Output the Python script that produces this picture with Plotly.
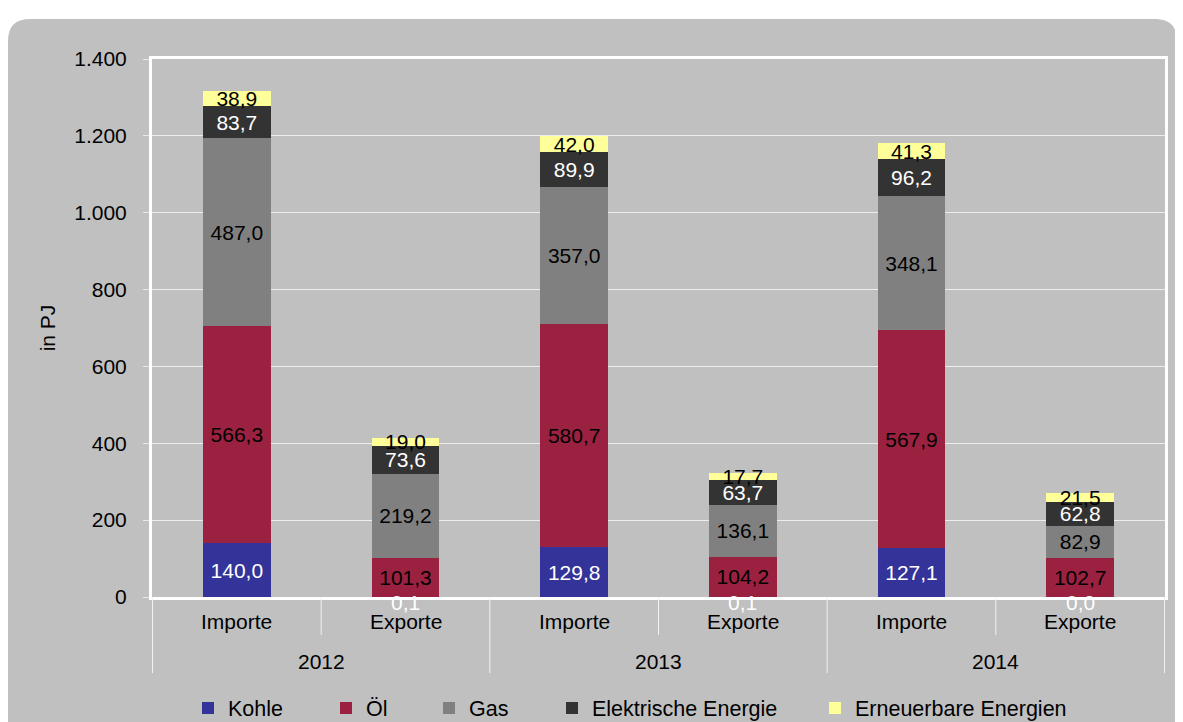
import plotly.graph_objects as go

years = ["2012", "2012", "2013", "2013", "2014", "2014"]
kinds = ["Importe", "Exporte", "Importe", "Exporte", "Importe", "Exporte"]

kohle = [140.0, 0.1, 129.8, 0.1, 127.1, 0.0]
oel = [566.3, 101.3, 580.7, 104.2, 567.9, 102.7]
gas = [487.0, 219.2, 357.0, 136.1, 348.1, 82.9]
elektrisch = [83.7, 73.6, 89.9, 63.7, 96.2, 62.8]
erneuerbar = [38.9, 19.0, 42.0, 17.7, 41.3, 21.5]

y_ticks = [0, 200, 400, 600, 800, 1000, 1200, 1400]

# the page body has an 8px margin; figure coordinates are page coords - 8
OFF = 8
W, H = 1175, 714
ML, MR, MT, MB = 152 - OFF, 18, 59 - OFF, 714 - (597 - OFF)
PW, PH = W - ML - MR, H - MT - MB
FONT = "Liberation Sans, Arial, sans-serif"
FS = 21


def fmt(v):
    return f"{v:.1f}".replace(".", ",")


def px_x(page_px):
    return (page_px - OFF - ML) / PW


def px_y(page_py):
    return (H - MB - (page_py - OFF)) / PH


series = [
    ("Kohle", kohle, "#333399", "white"),
    ("Öl", oel, "#9B2141", "black"),
    ("Gas", gas, "#808080", "black"),
    ("Elektrische Energie", elektrisch, "#333333", "white"),
    ("Erneuerbare Energien", erneuerbar, "#FFFF99", "black"),
]
# legend symbol centres (page px) roughly as in the reference
legend_px = [208, 346, 449, 572, 835]

fig = go.Figure()
legend_layout = {}
for idx, (name, vals, color, tcol) in enumerate(series):
    if name == "Kohle":
        txt = [fmt(v) if k == "Importe" else "" for v, k in zip(vals, kinds)]
    else:
        txt = [fmt(v) for v in vals]
    lname = "legend" if idx == 0 else f"legend{idx + 1}"
    fig.add_trace(go.Bar(
        name=name,
        x=[years, kinds],
        y=vals,
        marker=dict(color=color, line=dict(width=0)),
        text=txt,
        textposition="inside",
        insidetextanchor="middle",
        constraintext="none",
        textangle=0,
        textfont=dict(color=tcol, size=FS, family=FONT),
        hoverinfo="name+y",
        legend=lname,
    ))
    legend_layout[lname] = dict(
        orientation="h", xref="container", yref="container",
        x=(legend_px[idx] - OFF - 20) / W, xanchor="left",
        y=1 - (708 - OFF) / H, yanchor="middle",
        font=dict(size=21.5, family=FONT, color="black"),
        bgcolor="rgba(0,0,0,0)", itemwidth=30,
    )

annotations = []
# Kohle export labels (near-zero bars)
for i, (k, v) in enumerate(zip(kinds, kohle)):
    if k == "Exporte":
        annotations.append(dict(
            x=i, y=0, xref="x", yref="y", text=fmt(v), showarrow=False,
            font=dict(color="white", size=FS, family=FONT),
            yanchor="middle", yshift=-5,
        ))

# category labels
for i, k in enumerate(kinds):
    annotations.append(dict(
        x=i, y=px_y(621), xref="x", yref="paper", text=k, showarrow=False,
        font=dict(color="black", size=FS, family=FONT), yanchor="middle",
    ))
unique_years = []
for y_ in years:
    if y_ not in unique_years:
        unique_years.append(y_)
for y_ in unique_years:
    pos = [i for i, yy in enumerate(years) if yy == y_]
    annotations.append(dict(
        x=sum(pos) / len(pos), y=px_y(661), xref="x", yref="paper", text=y_,
        showarrow=False, font=dict(color="black", size=FS, family=FONT),
        yanchor="middle",
    ))

# rounded grey background panel
x0, x1 = px_x(8), px_x(1177)
y0, y1 = px_y(760), px_y(19)
rx, ry = 22 / PW, 22 / PH
path = (f"M{x0+rx},{y1} L{x1-rx},{y1} Q{x1},{y1} {x1},{y1-ry} "
        f"L{x1},{y0+ry} Q{x1},{y0} {x1-rx},{y0} L{x0+rx},{y0} "
        f"Q{x0},{y0} {x0},{y0+ry} L{x0},{y1-ry} Q{x0},{y1} {x0+rx},{y1} Z")
shapes = [dict(type="path", path=path, xref="paper", yref="paper",
               fillcolor="#C0C0C0", line=dict(width=0), layer="below")]

# dividers: short ones between Importe/Exporte, long ones between years
for i in range(-1, len(kinds)):
    left = years[i] if i >= 0 else None
    right = years[i + 1] if i + 1 < len(years) else None
    bottom = 635 if (left is not None and left == right) else 673
    shapes.append(dict(type="line", xref="x", yref="paper",
                       x0=i + 0.5, x1=i + 0.5, y0=0, y1=px_y(bottom),
                       line=dict(color="#F2F2F2", width=1)))

fig.update_layout(
    width=W, height=H,
    margin=dict(l=ML, r=MR, t=MT, b=MB, pad=0),
    paper_bgcolor="white",
    plot_bgcolor="rgba(0,0,0,0)",
    barmode="stack",
    bargap=0.6,
    separators=",.",
    font=dict(family=FONT, size=FS, color="black"),
    shapes=shapes,
    annotations=annotations,
    showlegend=True,
    **legend_layout,
)

fig.update_xaxes(
    type="multicategory",
    automargin=False,
    showticklabels=False,
    showline=True, linecolor="white", linewidth=3, mirror=True,
    showgrid=False, ticks="",
    showdividers=False,
)

fig.update_yaxes(
    automargin=False,
    range=[0, 1400],
    tickvals=y_ticks,
    separatethousands=True,
    tickformat=",d",
    showline=True, linecolor="white", linewidth=3, mirror=True,
    showgrid=True, gridcolor="#EDEDED", gridwidth=1,
    zeroline=False,
    ticks="outside", ticklen=6, tickcolor="#E8E8E8", tickwidth=1,
    ticklabelstandoff=12,
    tickfont=dict(size=FS, family=FONT, color="black"),
    title=dict(text="in PJ", font=dict(size=FS, family=FONT, color="black"),
               standoff=13),
)

fig.write_html("out.html")
